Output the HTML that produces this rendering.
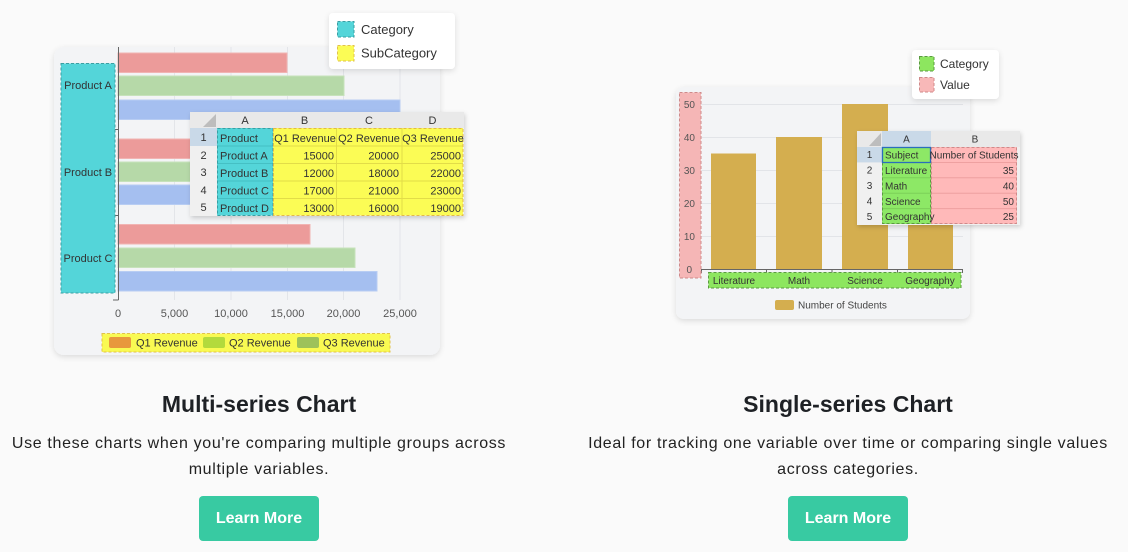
<!DOCTYPE html>
<html>
<head>
<meta charset="utf-8">
<style>
  html,body{margin:0;padding:0;}
  body{width:1128px;height:552px;background:#fafafa;position:relative;overflow:hidden;font-family:"Liberation Sans",Arial,sans-serif;}
  svg{position:absolute;left:0;top:0;}
  .title{position:absolute;font-size:23px;font-weight:bold;color:#1e2125;text-align:center;width:560px;top:391px;}
  .desc{position:absolute;font-size:16px;color:#222;text-align:center;width:640px;line-height:26px;top:431px;letter-spacing:0.66px;}
  .btn{position:absolute;top:496px;width:120px;height:45px;background:#38caa2;border-radius:4px;color:#fff;font-weight:bold;font-size:16px;line-height:45px;text-align:center;}
</style>
</head>
<body>
<svg width="1128" height="552" viewBox="0 0 1128 552" font-family="Liberation Sans, Arial, sans-serif">
  <defs>
    <filter id="sh" x="-10%" y="-10%" width="120%" height="130%">
      <feDropShadow dx="0" dy="2" stdDeviation="3" flood-color="#000" flood-opacity="0.12"/>
    </filter>
    <filter id="sh2" x="-10%" y="-10%" width="125%" height="135%">
      <feDropShadow dx="1" dy="2" stdDeviation="2.5" flood-color="#000" flood-opacity="0.18"/>
    </filter>
  </defs>

  <!-- ============ LEFT CARD ============ -->
  <rect x="54" y="47" width="386" height="308" rx="10" fill="#f3f4f6" filter="url(#sh)"/>
  <g stroke="#e3e5e9" stroke-width="1">
    <line x1="174.5" y1="47" x2="174.5" y2="300"/>
    <line x1="231" y1="47" x2="231" y2="300"/>
    <line x1="287.5" y1="47" x2="287.5" y2="300"/>
    <line x1="343.5" y1="47" x2="343.5" y2="300"/>
    <line x1="400" y1="47" x2="400" y2="300"/>
  </g>
  <g stroke-width="1">
    <rect x="118" y="53" width="169" height="19.5" fill="#ec9b9a" stroke="#f1b4b3"/>
    <rect x="118" y="76" width="226" height="19.5" fill="#b6d9a8" stroke="#c7e2bb"/>
    <rect x="118" y="100" width="282" height="19.5" fill="#a5bff0" stroke="#b8cdf3"/>
    <rect x="118" y="139" width="135" height="19.5" fill="#ec9b9a" stroke="#f1b4b3"/>
    <rect x="118" y="162" width="203" height="19.5" fill="#b6d9a8" stroke="#c7e2bb"/>
    <rect x="118" y="185" width="248" height="19.5" fill="#a5bff0" stroke="#b8cdf3"/>
    <rect x="118" y="224.5" width="192" height="19.5" fill="#ec9b9a" stroke="#f1b4b3"/>
    <rect x="118" y="248" width="237" height="19.5" fill="#b6d9a8" stroke="#c7e2bb"/>
    <rect x="118" y="271.5" width="259" height="19.5" fill="#a5bff0" stroke="#b8cdf3"/>
  </g>
  <g stroke="#666" stroke-width="1">
    <line x1="118.5" y1="47" x2="118.5" y2="300"/>
    <line x1="113" y1="129.5" x2="118.5" y2="129.5"/>
    <line x1="113" y1="215.5" x2="118.5" y2="215.5"/>
    <line x1="113" y1="300" x2="118.5" y2="300"/>
  </g>
  <rect x="61" y="63.5" width="54" height="229.5" fill="#54d5d9" stroke="#3a9fa3" stroke-dasharray="3,2"/>
  <g font-size="11" fill="#333" text-anchor="middle">
    <text x="88" y="89">Product A</text>
    <text x="88" y="176">Product B</text>
    <text x="88" y="262">Product C</text>
  </g>
  <g font-size="11" fill="#555" text-anchor="middle">
    <text x="118" y="317">0</text>
    <text x="174.5" y="317">5,000</text>
    <text x="231" y="317">10,000</text>
    <text x="287.5" y="317">15,000</text>
    <text x="343.5" y="317">20,000</text>
    <text x="400" y="317">25,000</text>
  </g>
  <rect x="102" y="333.5" width="288" height="18.5" fill="#f9fa52" stroke="#e2c24a" stroke-dasharray="3,2"/>
  <rect x="109" y="337" width="22" height="11" rx="2" fill="#e8983c"/>
  <rect x="203" y="337" width="22" height="11" rx="2" fill="#b3da3c"/>
  <rect x="297" y="337" width="22" height="11" rx="2" fill="#9dc25a"/>
  <g font-size="11" fill="#333">
    <text x="136" y="346.5">Q1 Revenue</text>
    <text x="229" y="346.5">Q2 Revenue</text>
    <text x="323" y="346.5">Q3 Revenue</text>
  </g>

  <!-- left popup legend -->
  <rect x="329" y="13" width="126" height="56" rx="4" fill="#fff" filter="url(#sh)"/>
  <rect x="337.5" y="21.5" width="16.5" height="15.5" fill="#54d5d9" stroke="#3a9fa3" stroke-dasharray="3,2"/>
  <rect x="337.5" y="45.5" width="16.5" height="15.5" fill="#fbfc55" stroke="#e2c24a" stroke-dasharray="3,2"/>
  <g font-size="13" fill="#333">
    <text x="361" y="34">Category</text>
    <text x="361" y="57.5">SubCategory</text>
  </g>

  <!-- left table -->
  <g filter="url(#sh2)">
    <rect x="190" y="112" width="274" height="104" fill="#f0f0f0"/>
  </g>
  <rect x="190" y="112" width="274" height="16" fill="#e9e9e9"/>
  <polygon points="216,114 216,127 203,127" fill="#bdbdbd"/>
  <rect x="190" y="128" width="27" height="18" fill="#c9d9e8"/>
  <g font-size="11" fill="#333" text-anchor="middle">
    <text x="245" y="124">A</text>
    <text x="304.5" y="124">B</text>
    <text x="369" y="124">C</text>
    <text x="432.5" y="124">D</text>
    <text x="203.5" y="141">1</text>
    <text x="203.5" y="159">2</text>
    <text x="203.5" y="176">3</text>
    <text x="203.5" y="194">4</text>
    <text x="203.5" y="211">5</text>
  </g>
  <rect x="217" y="128" width="56" height="87.5" fill="#54d5d9"/>
  <rect x="273" y="128" width="190" height="87.5" fill="#fbfc55"/>
  <g stroke="#45c0c4" stroke-width="1">
    <line x1="217" y1="146" x2="273" y2="146"/>
    <line x1="217" y1="163.5" x2="273" y2="163.5"/>
    <line x1="217" y1="181" x2="273" y2="181"/>
    <line x1="217" y1="198.5" x2="273" y2="198.5"/>
  </g>
  <g stroke="#e2dc48" stroke-width="1">
    <line x1="273" y1="146" x2="463" y2="146"/>
    <line x1="273" y1="163.5" x2="463" y2="163.5"/>
    <line x1="273" y1="181" x2="463" y2="181"/>
    <line x1="273" y1="198.5" x2="463" y2="198.5"/>
    <line x1="336.5" y1="128" x2="336.5" y2="215.5"/>
    <line x1="402" y1="128" x2="402" y2="215.5"/>
  </g>
  <rect x="217.5" y="128.5" width="55.5" height="87" fill="none" stroke="#3a9fa3" stroke-dasharray="3,2"/>
  <rect x="273.5" y="128.5" width="189.5" height="87" fill="none" stroke="#e2b84a" stroke-dasharray="3,2"/>
  <g font-size="11" fill="#333">
    <text x="220" y="142">Product</text>
    <text x="220" y="159.5">Product A</text>
    <text x="220" y="177">Product B</text>
    <text x="220" y="194.5">Product C</text>
    <text x="220" y="212">Product D</text>
    <text x="305" y="142" text-anchor="middle">Q1 Revenue</text>
    <text x="369" y="142" text-anchor="middle">Q2 Revenue</text>
    <text x="433" y="142" text-anchor="middle">Q3 Revenue</text>
  </g>
  <g font-size="11" fill="#333" text-anchor="end">
    <text x="334" y="159.5">15000</text><text x="399" y="159.5">20000</text><text x="461" y="159.5">25000</text>
    <text x="334" y="177">12000</text><text x="399" y="177">18000</text><text x="461" y="177">22000</text>
    <text x="334" y="194.5">17000</text><text x="399" y="194.5">21000</text><text x="461" y="194.5">23000</text>
    <text x="334" y="212">13000</text><text x="399" y="212">16000</text><text x="461" y="212">19000</text>
  </g>

  <!-- ============ RIGHT CARD ============ -->
  <rect x="676" y="87" width="294" height="232" rx="8" fill="#f3f4f6" filter="url(#sh)"/>
  <g stroke="#e2e4e8" stroke-width="1">
    <line x1="701" y1="104.5" x2="963" y2="104.5"/>
    <line x1="701" y1="137.5" x2="963" y2="137.5"/>
    <line x1="701" y1="170.5" x2="963" y2="170.5"/>
    <line x1="701" y1="203.5" x2="963" y2="203.5"/>
    <line x1="701" y1="236.5" x2="963" y2="236.5"/>
  </g>
  <g fill="#d4ae4f">
    <rect x="711" y="153.5" width="45" height="115.5"/>
    <rect x="776" y="137" width="46" height="132"/>
    <rect x="842" y="104" width="46" height="165"/>
    <rect x="908" y="186.5" width="45" height="82.5"/>
  </g>
  <g stroke="#666" stroke-width="1">
    <line x1="701" y1="269.5" x2="963" y2="269.5"/>
    <line x1="701.5" y1="269" x2="701.5" y2="273"/>
    <line x1="766.5" y1="269" x2="766.5" y2="273"/>
    <line x1="832" y1="269" x2="832" y2="273"/>
    <line x1="897.5" y1="269" x2="897.5" y2="273"/>
    <line x1="962.5" y1="269" x2="962.5" y2="273"/>
  </g>
  <rect x="679.5" y="92.5" width="21.5" height="185.5" fill="#f5b6b6" stroke="#cf8a8a" stroke-dasharray="3,2"/>
  <g font-size="10" fill="#555" text-anchor="end">
    <text x="695" y="108">50</text>
    <text x="695" y="141">40</text>
    <text x="695" y="174">30</text>
    <text x="695" y="207">20</text>
    <text x="695" y="240">10</text>
    <text x="692" y="273">0</text>
  </g>
  <rect x="708.5" y="272.5" width="252.5" height="15.5" fill="#8de65f" stroke="#5a9a40" stroke-dasharray="3,2"/>
  <g font-size="10" fill="#333" text-anchor="middle">
    <text x="734" y="284">Literature</text>
    <text x="799" y="284">Math</text>
    <text x="865" y="284">Science</text>
    <text x="930" y="284">Geography</text>
  </g>
  <rect x="775" y="300" width="19" height="10" rx="2" fill="#d4ae4f"/>
  <text x="798" y="308.5" font-size="10" fill="#444">Number of Students</text>

  <!-- right popup -->
  <rect x="912" y="50" width="87" height="49" rx="4" fill="#fff" filter="url(#sh)"/>
  <rect x="919.5" y="56.5" width="14.5" height="14.5" fill="#8de65f" stroke="#5a9a40" stroke-dasharray="3,2"/>
  <rect x="919.5" y="77.5" width="14.5" height="14.5" fill="#f8b8b8" stroke="#cf8a8a" stroke-dasharray="3,2"/>
  <g font-size="12" fill="#333">
    <text x="940" y="68">Category</text>
    <text x="940" y="89">Value</text>
  </g>

  <!-- right table -->
  <g filter="url(#sh2)">
    <rect x="857" y="131" width="163" height="94" fill="#f0f0f0"/>
  </g>
  <rect x="857" y="131" width="163" height="16" fill="#e9e9e9"/>
  <rect x="882" y="131" width="49" height="16" fill="#c9d9e8"/>
  <polygon points="881,133 881,146 869,146" fill="#bdbdbd"/>
  <rect x="857" y="147" width="25" height="15.4" fill="#c9d9e8"/>
  <g font-size="10" fill="#333" text-anchor="middle">
    <text x="906.5" y="142.5">A</text>
    <text x="975" y="142.5">B</text>
    <text x="869.5" y="158">1</text>
    <text x="869.5" y="173.5">2</text>
    <text x="869.5" y="189">3</text>
    <text x="869.5" y="204.5">4</text>
    <text x="869.5" y="220">5</text>
  </g>
  <rect x="882" y="147" width="49" height="77" fill="#8de866"/>
  <rect x="931" y="147" width="86" height="77" fill="#ffb9b9"/>
  <g stroke="#7ccf58" stroke-width="1">
    <line x1="882" y1="162.5" x2="931" y2="162.5"/>
    <line x1="882" y1="177.8" x2="931" y2="177.8"/>
    <line x1="882" y1="193.2" x2="931" y2="193.2"/>
    <line x1="882" y1="208.6" x2="931" y2="208.6"/>
  </g>
  <g stroke="#eea0a0" stroke-width="1">
    <line x1="931" y1="162.5" x2="1017" y2="162.5"/>
    <line x1="931" y1="177.8" x2="1017" y2="177.8"/>
    <line x1="931" y1="193.2" x2="1017" y2="193.2"/>
    <line x1="931" y1="208.6" x2="1017" y2="208.6"/>
  </g>
  <rect x="882.5" y="147.5" width="48" height="76" fill="none" stroke="#5a9a40" stroke-dasharray="3,2"/>
  <rect x="931.5" y="147.5" width="85" height="76" fill="none" stroke="#cf8a8a" stroke-dasharray="3,2"/>
  <rect x="882.5" y="147.5" width="48" height="15" fill="none" stroke="#2a6ebb" stroke-width="1.3"/>
  <g font-size="10" fill="#333">
    <text x="885" y="158.5">Subject</text>
    <text x="885" y="174">Literature</text>
    <text x="885" y="189.5">Math</text>
    <text x="885" y="205">Science</text>
    <text x="885" y="220">Geography</text>
    <text x="974" y="158.5" text-anchor="middle">Number of Students</text>
  </g>
  <g font-size="10" fill="#333" text-anchor="end">
    <text x="1014" y="174">35</text>
    <text x="1014" y="189.5">40</text>
    <text x="1014" y="205">50</text>
    <text x="1014" y="220">25</text>
  </g>
</svg>

<div class="title" style="left:-21px;">Multi-series Chart</div>
<div class="desc" style="left:-61px;">Use these charts when you're comparing multiple groups across<br>multiple variables.</div>
<div class="btn" style="left:199px;">Learn More</div>

<div class="title" style="left:568px;">Single-series Chart</div>
<div class="desc" style="left:528px;">Ideal for tracking one variable over time or comparing single values<br>across categories.</div>
<div class="btn" style="left:788px;">Learn More</div>
</body>
</html>
